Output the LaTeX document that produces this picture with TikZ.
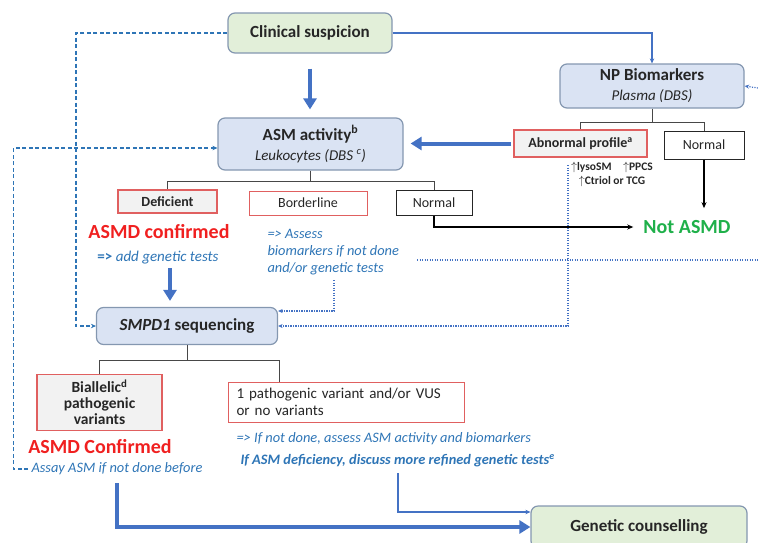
\documentclass[tikz,border=0pt]{standalone}
\usepackage{fontspec}
\setmainfont{Carlito}
\usetikzlibrary{arrows.meta}
\definecolor{dxink}{HTML}{262626}
\definecolor{dxblue}{HTML}{4472C4}
\definecolor{dxnote}{HTML}{2E75B6}
\definecolor{dxred}{HTML}{F02020}
\definecolor{dxredline}{HTML}{E06060}
\definecolor{dxgreen}{HTML}{1FB04A}
\definecolor{dxedge}{HTML}{8497B0}
\definecolor{dxpaleg}{HTML}{E2EFD9}
\definecolor{dxpaleb}{HTML}{DAE3F3}
\definecolor{dxgray}{HTML}{F2F2F2}
\tikzset{
  dx text/.style={font=\fontsize{14}{17}\selectfont, text=dxink},
  dx main/.style={draw=dxedge, line width=1.2pt, rounded corners=7pt, align=center,
    font=\fontsize{17}{20}\selectfont\bfseries},
  dx green/.style={dx main, fill=dxpaleg},
  dx blue/.style={dx main, fill=dxpaleb},
  dx result/.style={draw=dxredline, line width=1.2pt, fill=dxgray, align=center,
    font=\fontsize{14}{17}\selectfont\bfseries},
  dx plain/.style={draw=dxink, line width=1pt, fill=white, font=\fontsize{14}{17}\selectfont},
  dx tree/.style={draw=dxink!85, line width=1pt},
  dx thick/.style={-{Triangle[length=11pt,width=13pt]}, line width=4pt, draw=dxblue},
  dx thin/.style={-{Stealth[length=5pt,width=4.5pt]}, line width=1.3pt, draw=dxblue},
  dx dash/.style={dx thin, draw=dxnote, dash pattern=on 4pt off 2.5pt},
  dx dot/.style={-{Stealth[length=4.5pt,width=4pt]}, line width=1.2pt, draw=dxblue,
    dash pattern=on 1.2pt off 1.3pt},
  dx black/.style={-{Stealth[length=6pt,width=5pt]}, line width=1.3pt, draw=black},
  dx note/.style={font=\fontsize{14.4}{17}\selectfont\itshape, text=dxnote, align=left},
  dx verdict/.style={font=\fontsize{20}{24}\selectfont\bfseries, inner sep=2pt}
}

\begin{document}
\begin{tikzpicture}[dx text, x=1pt, y=-1pt]
  \clip (0,0) rectangle (758,542);
  % top row
  \node[dx green, minimum width=164pt, minimum height=40pt] (clin) at (310,33) {Clinical suspicion};
  \node[dx blue, minimum width=184pt, minimum height=44pt] (np) at (652,86)
    {NP Biomarkers\\{\mdseries\itshape\fontsize{15}{18}\selectfont Plasma (DBS)}};
  \node[dx blue, minimum width=185pt, minimum height=52pt] (asm) at (310.5,144)
    {ASM activity\textsuperscript{b}\\{\mdseries\itshape\fontsize{15}{18}\selectfont Leukocytes (DBS \textsuperscript{c})}};
  \node[dx result, minimum width=133pt, minimum height=27pt] (abn) at (580.5,143.5) {Abnormal profile\textsuperscript{a}};
  \node[dx plain, minimum width=80pt, minimum height=28pt] (npnorm) at (704,145) {Normal};
  \node[font=\fontsize{11.5}{14}\selectfont\bfseries, align=center] (lyso) at (612,174)
    {$\uparrow$lysoSM\quad$\uparrow$PPCS\\$\uparrow$Ctriol or TCG};
  % ASM results
  \node[dx result, minimum width=99pt, minimum height=23pt] (def) at (167.5,201.5) {Deficient};
  \node[dx plain, draw=dxredline, minimum width=118pt, minimum height=24pt] (bord) at (308,203) {Borderline};
  \node[dx plain, minimum width=76pt, minimum height=25pt] (asmnorm) at (434,202.5) {Normal};
  \node[dx verdict, text=dxgreen] (notasmd) at (687,227) {Not ASMD};
  \node[dx verdict, text=dxred] (conf) at (159,232) {ASMD confirmed};
  \node[dx note, font=\fontsize{15}{18}\selectfont\itshape] (addgen) at (158,258) {{\upshape\bfseries =>} add genetic tests};
  \node[dx note, anchor=north west] (bnote) at (264,226) {=> Assess\\biomarkers if not done\\and/or genetic tests};
  % genetics
  \node[dx blue, minimum width=181pt, minimum height=37pt] (smpd) at (187,326) {\textit{SMPD1} sequencing};
  \node[dx result, line width=1.6pt, minimum width=125pt, minimum height=56pt,
    font=\fontsize{15.5}{16}\selectfont\bfseries] (bial) at (99.5,402.5) {Biallelic\textsuperscript{d}\\pathogenic\\variants};
  \node[dx plain, draw=dxredline, minimum width=236pt, minimum height=40pt, text width=220pt,
    align=left, font=\fontsize{15}{17}\selectfont] (path) at (346.5,402) {1 pathogenic variant and/or VUS\\or no variants};
  \node[dx verdict, text=dxred] (conf2) at (100,447) {ASMD Confirmed};
  \node[dx note] (assay) at (117,469) {Assay ASM if not done before};
  \node[dx note, anchor=west] (note1) at (233,439) {=> If not done, assess ASM activity and biomarkers};
  \node[dx note, anchor=west, font=\fontsize{14.4}{17}\selectfont\itshape\bfseries] (note2) at (237,461)
    {If ASM deficiency, discuss more refined genetic tests\textsuperscript{e}};
  \node[dx green, minimum width=216pt, minimum height=42pt] (gc) at (639,527) {Genetic counselling};
  % free ends
  \coordinate (lysodot) at (568,165);
  \coordinate (bdot) at (334,280);
  \coordinate (hdotl) at (417,260);
  \coordinate (hdotr) at (758,260);
  \coordinate (npedge) at (758,88);
  \coordinate (bialout) at (117,483);
  \coordinate (pathout) at (398,473);
  % connectors
  \draw[dx thick, shorten <=15pt, shorten >=8pt] (clin.south) -- (clin.south |- asm.north);
  \draw[dx thin] (clin.east) -| (np.north);
  \draw[dx dash] (clin.west) -| ([xshift=-20pt]smpd.west) -- (smpd.west);
  \draw[dx dash] (assay.west) -| ([xshift=-204pt,yshift=-4pt]asm.west) -- ([yshift=-4pt]asm.west);
  \draw[dx thick, shorten <=2pt, shorten >=7pt] (abn.west) -- (abn.west -| asm.east);
  \draw[dx tree] (np.south) -- ++(0,14) -| (abn.north);
  \draw[dx tree] (np.south) ++(0,14) -| (npnorm.north);
  \draw[dx black, shorten >=10pt] (npnorm.south) -- (npnorm.south |- notasmd.north);
  \draw[dx tree] (asm.south) -- ++(0,11) -| (def.north);
  \draw[dx tree] (asm.south) ++(0,11) -| (asmnorm.north);
  \draw[dx black, shorten >=8pt] (asmnorm.south) |- (notasmd.west);
  \draw[dx thick, shorten >=6pt] ([xshift=12pt]addgen.south) -- ([xshift=12pt]addgen.south |- smpd.north);
  \draw[dx dot] (bdot) |- ([yshift=15pt]smpd.east);
  \draw[dx dot] (lysodot) |- (smpd.east);
  \draw[dx dot, -] (hdotl) -- (hdotr);
  \draw[dx dot] (npedge) -- (np.east);
  \draw[dx tree] (smpd.south) -- ++(0,15) -| (bial.north);
  \draw[dx tree] (smpd.south) ++(0,15) -| ([xshift=-67pt]path.north);
  \draw[dx thin] (pathout) |- ([yshift=15pt]gc.west);
  \draw[dx thick] (bialout) |- (gc.west);
\end{tikzpicture}
\end{document}
